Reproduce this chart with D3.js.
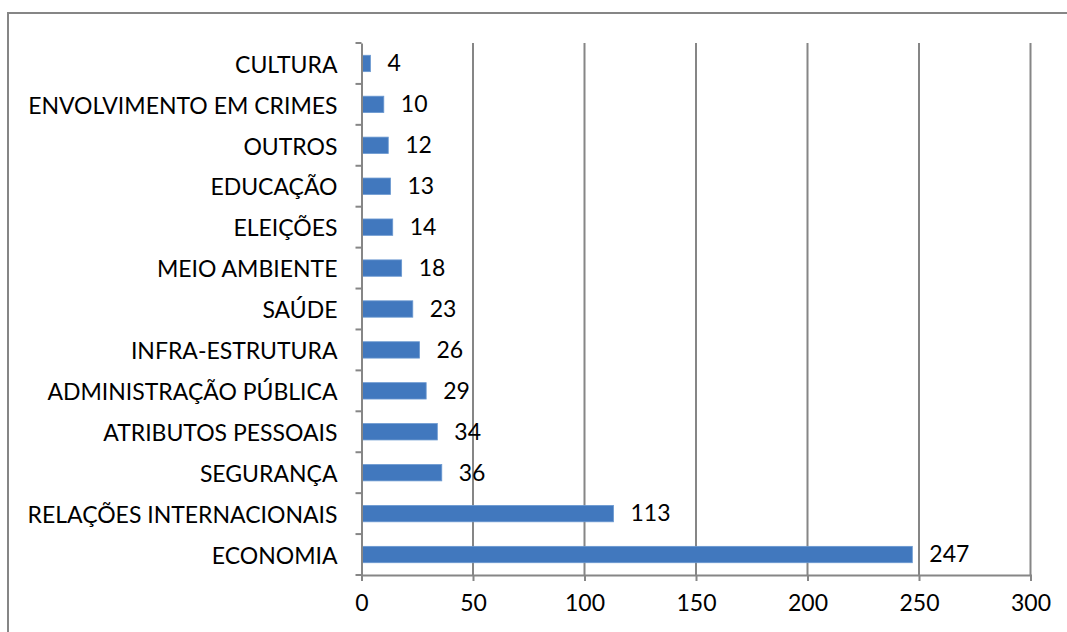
<!DOCTYPE html>
<html><head><meta charset="utf-8">
<script src="https://cdn.jsdelivr.net/npm/d3@7"></script>
<style>html,body{margin:0;padding:0;background:#fff;}svg{display:block;}</style>
</head><body>
<script>
const categories = ["CULTURA","ENVOLVIMENTO EM CRIMES","OUTROS","EDUCAÇÃO","ELEIÇÕES","MEIO AMBIENTE","SAÚDE","INFRA-ESTRUTURA","ADMINISTRAÇÃO PÚBLICA","ATRIBUTOS PESSOAIS","SEGURANÇA","RELAÇÕES INTERNACIONAIS","ECONOMIA"];
const values = [4,10,12,13,14,18,23,26,29,34,36,113,247];
const xTicks = [0,50,100,150,200,250,300];

(function(){
const W=1067,H=632;
const svg=d3.select("body").append("svg").attr("width",W).attr("height",H);
const font="Lato, 'Open Sans', sans-serif";
const fs=23;
const grey="#868686";

svg.append("rect").attr("x",8).attr("y",13).attr("width",1070).attr("height",640)
  .attr("fill","none").attr("stroke",grey).attr("stroke-width",2);

const pl=361.5,pr=1030.5,pt=43,pb=575;
const x=d3.scaleLinear().domain([0,300]).range([pl,pr]);
const y=d3.scaleBand().domain(categories).range([pt,pb]).paddingInner(0.6).paddingOuter(0.3);

svg.append("g").selectAll("line").data(xTicks.slice(1)).join("line")
  .attr("x1",d=>x(d)).attr("x2",d=>x(d)).attr("y1",pt).attr("y2",pb)
  .attr("stroke",grey).attr("stroke-width",2);

svg.append("g").selectAll("rect").data(values).join("rect")
  .attr("x",x(0)).attr("y",(d,i)=>y(categories[i]))
  .attr("width",d=>x(d)-x(0)).attr("height",y.bandwidth())
  .attr("fill","#4178BE").attr("stroke","#6A98D0").attr("stroke-width",0.8);

svg.append("g").selectAll("text").data(values).join("text")
  .attr("x",d=>x(d)+17).attr("y",(d,i)=>y(categories[i])+y.bandwidth()/2+2)
  .attr("dominant-baseline","middle")
  .attr("font-family",font).attr("font-size",fs).attr("fill","#000")
  .text(d=>d);

const xa=d3.axisBottom(x).tickValues(xTicks).tickSize(6).tickPadding(14);
const gx=svg.append("g").attr("transform",`translate(0,${pb})`).call(xa);
gx.select(".domain").attr("stroke",grey).attr("stroke-width",2);
gx.selectAll(".tick line").attr("stroke",grey).attr("stroke-width",2);
gx.selectAll(".tick text").attr("font-family",font).attr("font-size",fs).attr("fill","#000");

const ya=d3.axisLeft(y).tickSize(0).tickPadding(24);
const gy=svg.append("g").attr("transform",`translate(${pl},0)`).call(ya);
gy.select(".domain").attr("stroke",grey).attr("stroke-width",2);
gy.selectAll(".tick text").attr("font-family",font).attr("font-size",fs).attr("fill","#000").attr("dy","0.4em");
const bounds=d3.range(categories.length+1).map(i=>pt+i*y.step());
gy.append("g").selectAll("line").data(bounds).join("line")
  .attr("x1",-6).attr("x2",0).attr("y1",d=>d).attr("y2",d=>d)
  .attr("stroke",grey).attr("stroke-width",2);
})();
</script>
</body></html>
